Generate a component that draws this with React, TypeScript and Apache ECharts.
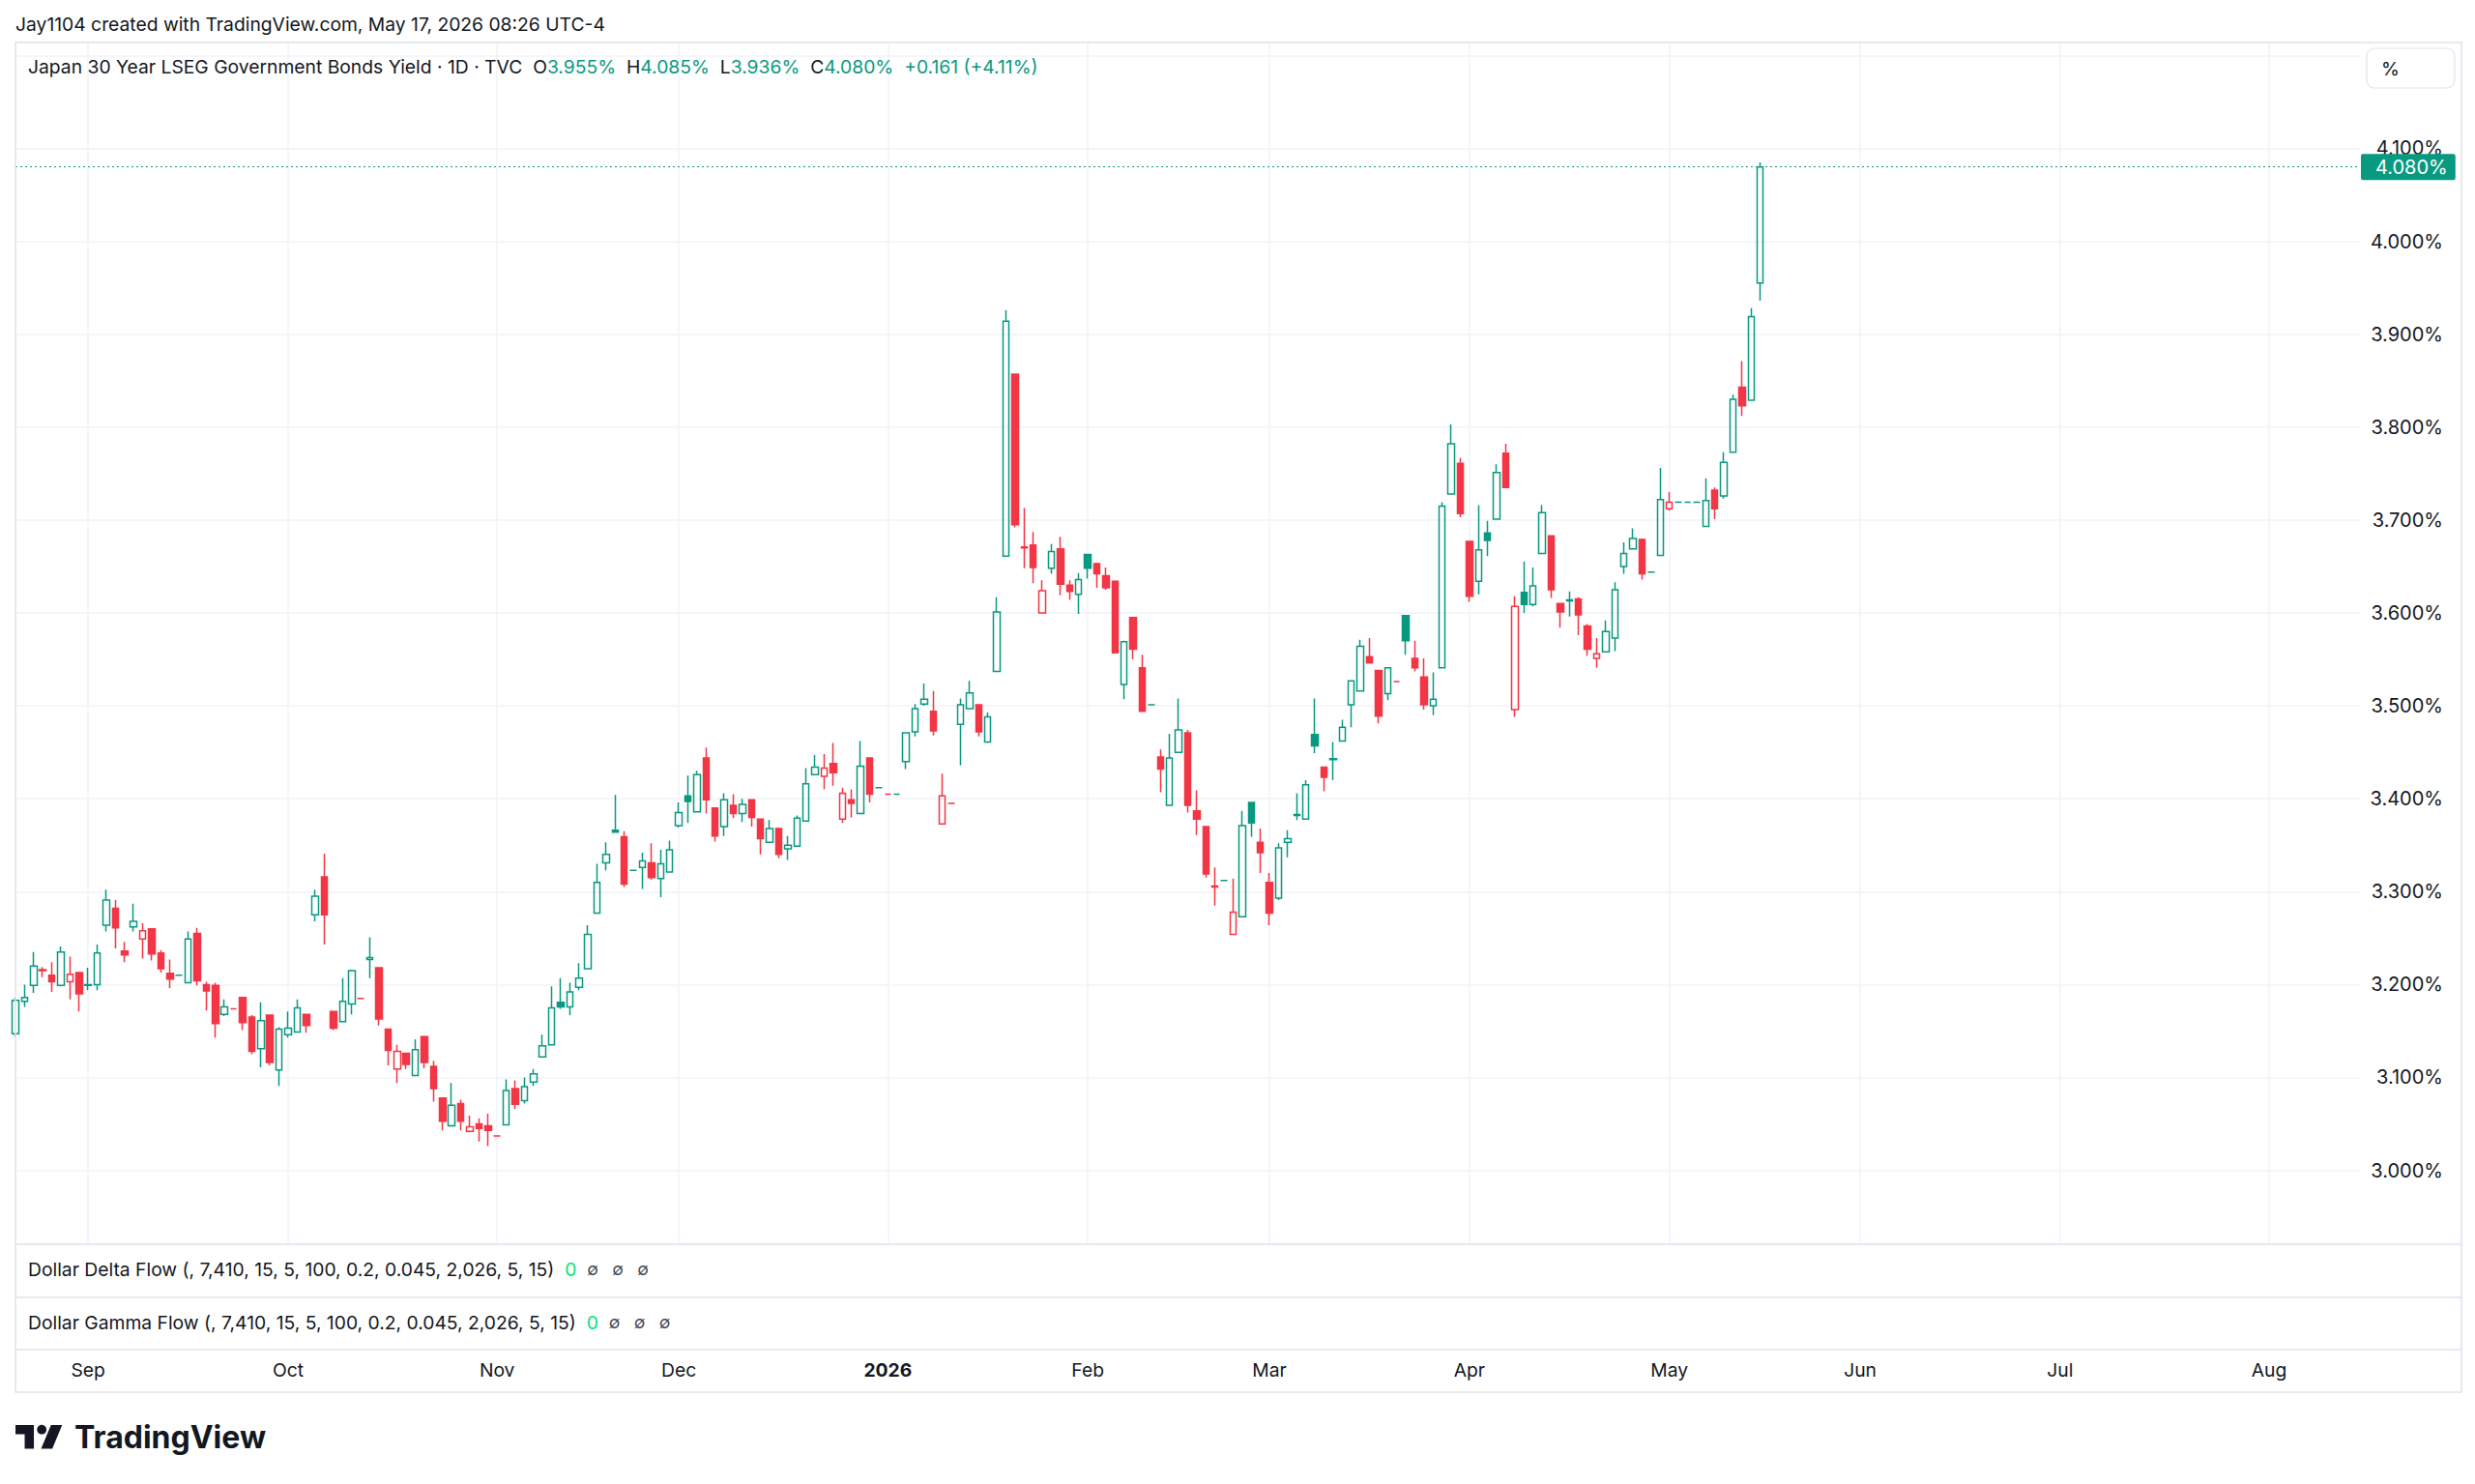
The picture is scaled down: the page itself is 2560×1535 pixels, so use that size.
import React, { useEffect, useRef } from "react";
import * as echarts from "echarts";

// ---------- data ----------
const START_DATE = "2025-08-20";
const TOTAL_SLOTS = 259; // weekdays shown on the time axis (incl. empty future space)

const OPEN = [
  3.147, 3.182, 3.199, 3.216, 3.210, 3.199, 3.203, 3.213, 3.200, 3.200,
  3.264, 3.282, 3.236, 3.262, 3.249, 3.260, 3.234, 3.212, 3.210, 3.202,
  3.255, 3.200, 3.199, 3.168, 3.174, 3.186, 3.165, 3.131, 3.167, 3.108,
  3.146, 3.149, 3.168, 3.275, 3.316, 3.171, 3.160, 3.179, 3.185, 3.227,
  3.218, 3.152, 3.109, 3.126, 3.102, 3.144, 3.112, 3.078, 3.048, 3.072,
  3.042, 3.050, 3.048, 3.037, 3.049, 3.088, 3.075, 3.095, 3.122, 3.135,
  3.181, 3.176, 3.197, 3.217, 3.277, 3.331, 3.366, 3.359, 3.323, 3.326,
  3.331, 3.314, 3.321, 3.371, 3.403, 3.386, 3.444, 3.390, 3.370, 3.393,
  3.384, 3.399, 3.378, 3.353, 3.368, 3.346, 3.349, 3.376, 3.426, 3.424,
  3.438, 3.378, 3.399, 3.384, 3.444, 3.412, 3.405, 3.405, 3.440, 3.472,
  3.502, 3.494, 3.373, 3.395, 3.480, 3.497, 3.501, 3.461, 3.537, 3.661,
  3.857, 3.671, 3.673, 3.600, 3.648, 3.669, 3.630, 3.620, 3.663, 3.653,
  3.640, 3.634, 3.523, 3.595, 3.541, 3.501, 3.445, 3.393, 3.450, 3.471,
  3.387, 3.370, 3.306, 3.312, 3.254, 3.273, 3.396, 3.353, 3.310, 3.293,
  3.353, 3.382, 3.378, 3.469, 3.434, 3.442, 3.462, 3.501, 3.516, 3.553,
  3.538, 3.513, 3.526, 3.597, 3.551, 3.531, 3.500, 3.541, 3.728, 3.761,
  3.677, 3.634, 3.686, 3.701, 3.772, 3.496, 3.622, 3.609, 3.664, 3.683,
  3.610, 3.613, 3.615, 3.586, 3.551, 3.558, 3.573, 3.650, 3.669, 3.679,
  3.644, 3.662, 3.712, 3.719, 3.719, 3.719, 3.693, 3.732, 3.726, 3.773,
  3.843, 3.829, 3.955,
];
const HIGH = [
  3.186, 3.200, 3.235, 3.219, 3.224, 3.241, 3.230, 3.213, 3.218, 3.243,
  3.302, 3.291, 3.246, 3.287, 3.266, 3.260, 3.237, 3.227, 3.210, 3.257,
  3.261, 3.203, 3.202, 3.184, 3.174, 3.186, 3.167, 3.181, 3.167, 3.154,
  3.171, 3.184, 3.168, 3.302, 3.341, 3.172, 3.207, 3.216, 3.185, 3.251,
  3.218, 3.152, 3.135, 3.126, 3.141, 3.145, 3.118, 3.078, 3.094, 3.076,
  3.059, 3.056, 3.061, 3.037, 3.098, 3.097, 3.100, 3.109, 3.146, 3.198,
  3.207, 3.202, 3.223, 3.264, 3.330, 3.353, 3.404, 3.365, 3.323, 3.342,
  3.352, 3.345, 3.355, 3.396, 3.425, 3.430, 3.455, 3.390, 3.406, 3.405,
  3.400, 3.399, 3.378, 3.377, 3.369, 3.360, 3.382, 3.433, 3.447, 3.448,
  3.460, 3.412, 3.410, 3.462, 3.444, 3.412, 3.405, 3.405, 3.471, 3.502,
  3.524, 3.516, 3.427, 3.395, 3.508, 3.527, 3.501, 3.493, 3.617, 3.926,
  3.857, 3.713, 3.687, 3.635, 3.674, 3.682, 3.635, 3.643, 3.663, 3.653,
  3.649, 3.635, 3.570, 3.595, 3.555, 3.501, 3.453, 3.470, 3.508, 3.474,
  3.409, 3.370, 3.326, 3.312, 3.314, 3.387, 3.396, 3.368, 3.320, 3.352,
  3.366, 3.406, 3.420, 3.508, 3.434, 3.461, 3.485, 3.527, 3.571, 3.573,
  3.538, 3.541, 3.526, 3.597, 3.570, 3.551, 3.536, 3.719, 3.803, 3.767,
  3.677, 3.716, 3.699, 3.760, 3.782, 3.618, 3.655, 3.649, 3.716, 3.683,
  3.610, 3.623, 3.617, 3.588, 3.573, 3.592, 3.633, 3.676, 3.691, 3.680,
  3.644, 3.756, 3.730, 3.719, 3.719, 3.719, 3.745, 3.735, 3.773, 3.835,
  3.871, 3.928, 4.085,
];
const LOW = [
  3.144, 3.176, 3.191, 3.208, 3.192, 3.198, 3.184, 3.171, 3.194, 3.194,
  3.257, 3.239, 3.224, 3.257, 3.228, 3.226, 3.213, 3.196, 3.210, 3.202,
  3.199, 3.172, 3.143, 3.166, 3.174, 3.151, 3.125, 3.111, 3.113, 3.091,
  3.143, 3.149, 3.148, 3.268, 3.243, 3.151, 3.160, 3.168, 3.185, 3.207,
  3.156, 3.113, 3.094, 3.109, 3.102, 3.110, 3.074, 3.043, 3.047, 3.043,
  3.041, 3.031, 3.026, 3.037, 3.049, 3.066, 3.072, 3.091, 3.122, 3.135,
  3.174, 3.167, 3.194, 3.217, 3.277, 3.323, 3.364, 3.305, 3.323, 3.303,
  3.313, 3.294, 3.321, 3.369, 3.374, 3.386, 3.384, 3.354, 3.360, 3.379,
  3.375, 3.370, 3.340, 3.352, 3.336, 3.334, 3.349, 3.376, 3.426, 3.410,
  3.414, 3.374, 3.380, 3.384, 3.396, 3.412, 3.405, 3.405, 3.432, 3.467,
  3.500, 3.468, 3.373, 3.395, 3.436, 3.497, 3.467, 3.460, 3.537, 3.661,
  3.692, 3.648, 3.632, 3.600, 3.642, 3.619, 3.614, 3.599, 3.637, 3.627,
  3.625, 3.557, 3.507, 3.550, 3.494, 3.501, 3.407, 3.393, 3.450, 3.385,
  3.361, 3.315, 3.285, 3.312, 3.254, 3.273, 3.359, 3.320, 3.264, 3.291,
  3.337, 3.377, 3.378, 3.449, 3.408, 3.420, 3.462, 3.477, 3.516, 3.546,
  3.481, 3.506, 3.526, 3.555, 3.537, 3.496, 3.490, 3.541, 3.728, 3.703,
  3.612, 3.620, 3.661, 3.701, 3.735, 3.488, 3.600, 3.607, 3.664, 3.616,
  3.584, 3.596, 3.576, 3.554, 3.541, 3.558, 3.559, 3.642, 3.669, 3.636,
  3.644, 3.662, 3.710, 3.719, 3.719, 3.719, 3.693, 3.701, 3.723, 3.773,
  3.812, 3.829, 3.936,
];
const CLOSE = [
  3.183, 3.186, 3.220, 3.215, 3.203, 3.235, 3.211, 3.190, 3.199, 3.234,
  3.291, 3.261, 3.232, 3.268, 3.258, 3.233, 3.217, 3.206, 3.210, 3.249,
  3.204, 3.193, 3.158, 3.176, 3.174, 3.159, 3.128, 3.161, 3.116, 3.152,
  3.153, 3.175, 3.156, 3.295, 3.275, 3.153, 3.182, 3.215, 3.185, 3.229,
  3.163, 3.129, 3.128, 3.114, 3.130, 3.116, 3.088, 3.053, 3.070, 3.053,
  3.047, 3.045, 3.043, 3.037, 3.086, 3.071, 3.090, 3.104, 3.134, 3.175,
  3.176, 3.192, 3.207, 3.254, 3.310, 3.340, 3.364, 3.308, 3.323, 3.333,
  3.315, 3.330, 3.345, 3.385, 3.397, 3.426, 3.399, 3.360, 3.399, 3.384,
  3.394, 3.380, 3.357, 3.368, 3.340, 3.350, 3.379, 3.416, 3.434, 3.433,
  3.428, 3.406, 3.395, 3.435, 3.405, 3.412, 3.405, 3.405, 3.471, 3.497,
  3.507, 3.473, 3.403, 3.395, 3.501, 3.514, 3.472, 3.488, 3.601, 3.914,
  3.695, 3.670, 3.649, 3.624, 3.666, 3.631, 3.623, 3.636, 3.648, 3.642,
  3.627, 3.557, 3.569, 3.561, 3.494, 3.501, 3.432, 3.444, 3.474, 3.393,
  3.378, 3.319, 3.305, 3.312, 3.278, 3.371, 3.374, 3.342, 3.277, 3.347,
  3.357, 3.383, 3.415, 3.457, 3.423, 3.443, 3.477, 3.527, 3.564, 3.546,
  3.489, 3.541, 3.526, 3.570, 3.541, 3.501, 3.507, 3.715, 3.782, 3.707,
  3.618, 3.668, 3.678, 3.751, 3.735, 3.607, 3.609, 3.629, 3.708, 3.625,
  3.601, 3.614, 3.598, 3.561, 3.556, 3.580, 3.625, 3.664, 3.680, 3.642,
  3.644, 3.722, 3.719, 3.719, 3.719, 3.719, 3.721, 3.712, 3.762, 3.830,
  3.823, 3.919, 4.080,
];

const MONTH_ABBR = ["Jan", "Feb", "Mar", "Apr", "May", "Jun", "Jul", "Aug", "Sep", "Oct", "Nov", "Dec"];
const CREDIT = "Jay1104 created with TradingView.com, May 17, 2026 08:26 UTC-4";
const TITLE = "Japan 30 Year LSEG Government Bonds Yield · 1D · TVC";
const DELTA_LABEL = "Dollar Delta Flow (, 7,410, 15, 5, 100, 0.2, 0.045, 2,026, 5, 15)";
const GAMMA_LABEL = "Dollar Gamma Flow (, 7,410, 15, 5, 100, 0.2, 0.045, 2,026, 5, 15)";
const FLOW_VALUE = "0";
const NA_MARKS = "∅   ∅   ∅";
const UNIT = "%";

// ---------- style ----------
const UP = "#089981";
const DOWN = "#F23645";
const TEXT = "#131722";
const GRID = "#f0f3fa";
const BORDER = "#e0e3eb";
const FONT = "Inter, 'Noto Sans', sans-serif";
const FS = 19.3;

function weekdays(start: string, n: number): string[] {
  const out: string[] = [];
  const d = new Date(start + "T00:00:00Z");
  while (out.length < n) {
    const w = d.getUTCDay();
    if (w !== 0 && w !== 6) out.push(d.toISOString().slice(0, 10));
    d.setUTCDate(d.getUTCDate() + 1);
  }
  return out;
}

export default function App() {
  const ref = useRef<HTMLDivElement>(null);

  useEffect(() => {
    if (!ref.current) return;
    const chart = echarts.init(ref.current, null, { renderer: "svg" });

    const dates = weekdays(START_DATE, TOTAL_SLOTS);
    const isMonthStart = dates.map((d, i) => i > 0 && d.slice(5, 7) !== dates[i - 1].slice(5, 7));

    const candles = OPEN.map((o, i) => {
      const c = CLOSE[i];
      const prev = i > 0 ? CLOSE[i - 1] : o;
      const col = c >= prev ? UP : DOWN;
      const fill = c > o ? "rgba(255,255,255,0)" : col;
      return {
        value: [o, c, LOW[i], HIGH[i]],
        itemStyle: { color: fill, color0: fill, borderColor: col, borderColor0: col },
      };
    });

    const n = CLOSE.length;
    const lastO = OPEN[n - 1], lastH = HIGH[n - 1], lastL = LOW[n - 1], lastC = CLOSE[n - 1];
    const chg = lastC - CLOSE[n - 2];
    const pct = (chg / CLOSE[n - 2]) * 100;
    const sign = chg >= 0 ? "+" : "−";
    const chgCol = chg >= 0 ? UP : DOWN;

    const legendText =
      `{n|${TITLE}}{s|  }{n|O}{v|${lastO.toFixed(3)}%}{s|  }{n|H}{v|${lastH.toFixed(3)}%}{s|  }` +
      `{n|L}{v|${lastL.toFixed(3)}%}{s|  }{n|C}{v|${lastC.toFixed(3)}%}{s|  }` +
      `{v|${sign}${Math.abs(chg).toFixed(3)} (${sign}${Math.abs(pct).toFixed(2)}%)}`;

    const ymin = 2.9205;
    const ymax = 4.2139;

    const flowRich = {
      n: { fill: TEXT, fontSize: FS, fontFamily: FONT },
      s: { fill: TEXT, fontSize: FS, fontFamily: FONT },
      g: { fill: "#00e676", fontSize: FS, fontFamily: FONT },
      m: { fill: "#434651", fontSize: 17, fontFamily: FONT },
    };

    const option: any = {
      animation: false,
      backgroundColor: "#ffffff",
      textStyle: { fontFamily: FONT },
      grid: { left: 16, top: 44, width: 2425, height: 1243, containLabel: false },
      xAxis: {
        type: "category",
        data: dates,
        boundaryGap: false,
        axisLine: { show: false },
        axisTick: { show: false },
        splitLine: {
          show: true,
          interval: (idx: number) => isMonthStart[idx],
          lineStyle: { color: GRID, width: 1.5 },
        },
        axisLabel: {
          interval: (idx: number) => isMonthStart[idx],
          margin: 120,
          fontSize: FS,
          color: TEXT,
          fontFamily: FONT,
          formatter: (val: string) => {
            const m = parseInt(val.slice(5, 7), 10);
            return m === 1 ? `{b|${val.slice(0, 4)}}` : MONTH_ABBR[m - 1];
          },
          rich: { b: { fontWeight: "bold", fontSize: FS, color: TEXT, fontFamily: FONT } },
        },
      },
      yAxis: {
        type: "value",
        position: "right",
        min: ymin,
        max: ymax,
        splitNumber: 13,
        axisLine: { show: false },
        axisTick: { show: false },
        splitLine: { show: true, lineStyle: { color: GRID, width: 1.5 } },
        axisLabel: {
          show: true,
          inside: false,
          margin: 86,
          align: "right",
          fontSize: 20,
          color: TEXT,
          fontFamily: FONT,
          formatter: (v: number) =>
            Math.abs(v * 10 - Math.round(v * 10)) < 1e-6 && v < 4.15 ? `${v.toFixed(3)}%` : "",
        },
      },
      series: [
        {
          type: "candlestick",
          data: candles,
          barWidth: 7,
          clip: true,
          itemStyle: { borderWidth: 1.5 },
          markLine: {
            silent: true,
            symbol: ["none", "none"],
            data: [{ yAxis: lastC }],
            lineStyle: { color: UP, type: [2, 3], width: 1.2 },
            label: {
              show: true,
              position: "end",
              distance: 1,
              formatter: `${lastC.toFixed(3)}%`,
              backgroundColor: UP,
              color: "#ffffff",
              fontSize: 20,
              fontFamily: FONT,
              padding: [4, 8, 3, 15],
              borderRadius: 2,
            },
            emphasis: { disabled: true },
          },
        },
      ],
      graphic: [
        // frame and pane separators
        {
          type: "rect",
          z: 50,
          silent: true,
          shape: { x: 16, y: 44, width: 2530, height: 1396 },
          style: { fill: "none", stroke: BORDER, lineWidth: 1.5 },
        },
        { type: "line", z: 50, silent: true, shape: { x1: 16, y1: 1287, x2: 2546, y2: 1287 }, style: { stroke: BORDER, lineWidth: 1.5 } },
        { type: "line", z: 50, silent: true, shape: { x1: 16, y1: 1342, x2: 2546, y2: 1342 }, style: { stroke: BORDER, lineWidth: 1.5 } },
        { type: "line", z: 50, silent: true, shape: { x1: 16, y1: 1396, x2: 2546, y2: 1396 }, style: { stroke: BORDER, lineWidth: 1.5 } },
        // credit line
        {
          type: "text",
          x: 16,
          y: 25,
          style: { text: CREDIT, fill: TEXT, fontSize: FS, fontFamily: FONT, verticalAlign: "middle", align: "left" },
        },
        // legend
        {
          type: "text",
          x: 29,
          y: 69,
          z: 60,
          style: {
            text: legendText,
            fontFamily: FONT,
            fontSize: FS,
            verticalAlign: "middle",
            align: "left",
            rich: {
              n: { fill: TEXT, fontSize: FS, fontFamily: FONT },
              v: { fill: chgCol, fontSize: FS, fontFamily: FONT },
              s: { fill: TEXT, fontSize: FS, fontFamily: FONT },
            },
          },
        },
        // unit box
        {
          type: "rect",
          z: 60,
          shape: { x: 2448, y: 50, width: 91, height: 41, r: 8 },
          style: { fill: "#ffffff", stroke: BORDER, lineWidth: 1.2 },
        },
        {
          type: "text",
          z: 61,
          x: 2463,
          y: 71,
          style: { text: UNIT, fill: TEXT, fontSize: FS, fontFamily: FONT, verticalAlign: "middle", align: "left" },
        },
        // indicator panes
        {
          type: "text",
          x: 29,
          y: 1313,
          style: {
            text: `{n|${DELTA_LABEL}}{s|  }{g|${FLOW_VALUE}}{s|  }{m|${NA_MARKS}}`,
            fontFamily: FONT,
            fontSize: FS,
            verticalAlign: "middle",
            rich: flowRich,
          },
        },
        {
          type: "text",
          x: 29,
          y: 1368,
          style: {
            text: `{n|${GAMMA_LABEL}}{s|  }{g|${FLOW_VALUE}}{s|  }{m|${NA_MARKS}}`,
            fontFamily: FONT,
            fontSize: FS,
            verticalAlign: "middle",
            rich: flowRich,
          },
        },
        // TradingView logo
        {
          type: "group",
          x: 16,
          y: 1468.5,
          scaleX: 1.36,
          scaleY: 1.36,
          children: [
            { type: "polygon", shape: { points: [[0, 4], [14, 4], [14, 22], [7, 22], [7, 11], [0, 11]] }, style: { fill: TEXT } },
            { type: "circle", shape: { cx: 20, cy: 7.5, r: 3.6 }, style: { fill: TEXT } },
            { type: "polygon", shape: { points: [[19.5, 22], [27, 4], [35.5, 4], [28, 22]] }, style: { fill: TEXT } },
          ],
        },
        {
          type: "text",
          x: 77,
          y: 1486,
          style: {
            text: "TradingView",
            fill: TEXT,
            fontSize: 32,
            fontWeight: "bold",
            fontFamily: FONT,
            verticalAlign: "middle",
            align: "left",
          },
        },
      ],
    };

    chart.setOption(option);
    return () => chart.dispose();
  }, []);

  return (
    <div
      ref={ref}
      style={{ position: "fixed", left: 0, top: 0, width: 2560, height: 1535, background: "#ffffff" }}
    />
  );
}
